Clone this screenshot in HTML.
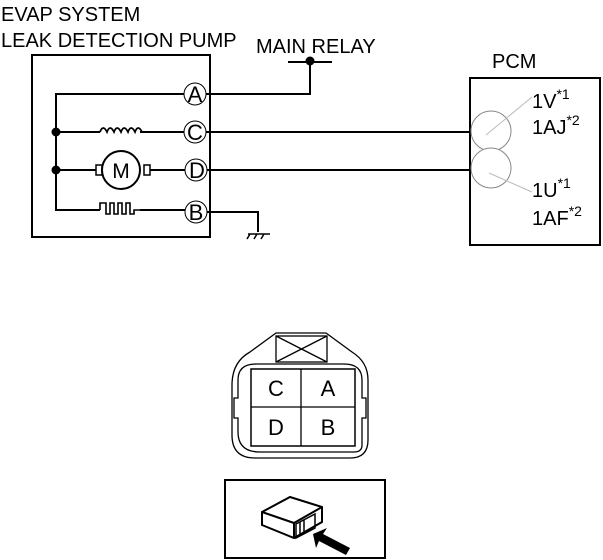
<!DOCTYPE html>
<html><head><style>body{margin:0;background:#fff}svg{display:block}text{font-family:"Liberation Sans",sans-serif;fill:#000}</style></head><body>
<svg width="603" height="560" viewBox="0 0 603 560">
<text x="1" y="21" font-size="20">EVAP SYSTEM</text>
<text x="1" y="47" font-size="20">LEAK DETECTION PUMP</text>
<text x="256" y="53" font-size="20">MAIN RELAY</text>
<text x="492" y="68" font-size="20">PCM</text>
<g fill="none" stroke="#000" stroke-width="2">
<rect x="32" y="55" width="178" height="182"/>
<rect x="470" y="78" width="130" height="167"/>
<path d="M186,94 H56 V210 H100 M56,132 H100 M56,170 H96 M150,170 H186 M140,132 H186 M140,210 H186"/>
<path d="M100,132 q3,-8 7,0 q3,-8 7,0 q3,-8 7,0 q3,-8 7,0 q3,-8 7,0 q3,-8 7,0" stroke-width="1.8"/>
<path d="M100,210 V203 H106 V214 H110 V203 H114 V214 H118 V203 H122 V214 H126 V203 H130 V214 H134 V210 H140" stroke-width="1.6"/>
<path d="M204,94 H310 V62 M288,62 H332 M204,132 H470 M206,170 H470 M204,212 H258 V232"/>
<path d="M248,234 H270 M250,234 l-3,5 M257,234 l-3,5 M264,234 l-3,5" stroke-width="1.5"/>
</g>
<rect x="96" y="165" width="6" height="10" fill="#fff" stroke="#000" stroke-width="1.5"/>
<rect x="144" y="165" width="6" height="10" fill="#fff" stroke="#000" stroke-width="1.5"/>
<circle cx="121" cy="170" r="19" fill="#fff" stroke="#000" stroke-width="2"/>
<text x="121" y="178" font-size="21" text-anchor="middle">M</text>
<circle cx="56" cy="132" r="4.5"/><circle cx="56" cy="170" r="4.5"/><circle cx="310" cy="61" r="4.5"/>
<g fill="#fff" stroke="#000" stroke-width="1"><circle cx="195" cy="94" r="11"/><circle cx="195" cy="132" r="11"/><circle cx="196" cy="170" r="11"/><circle cx="196" cy="212" r="11"/></g>
<g font-size="22" text-anchor="middle"><text x="195" y="102">A</text><text x="195" y="140">C</text><text x="197" y="178">D</text><text x="196" y="220">B</text></g>
<g fill="#fff" stroke="#888" stroke-width="1"><circle cx="491" cy="131" r="20"/><circle cx="491" cy="168" r="20"/></g>
<path d="M486,135 L532,97 M489,173 L532,192" stroke="#bbb" stroke-width="1"/>
<g font-size="20"><text x="532" y="108">1V<tspan font-size="14" dy="-9">*1</tspan></text>
<text x="532" y="134">1AJ<tspan font-size="14" dy="-9">*2</tspan></text>
<text x="532" y="197">1U<tspan font-size="14" dy="-9">*1</tspan></text>
<text x="532" y="225">1AF<tspan font-size="14" dy="-9">*2</tspan></text></g>
<g fill="none" stroke="#000" stroke-width="1.3">
<path d="M276,333 H326 L352,352 Q368,362 368,380 V440 Q368,458 350,458 H255 Q232,458 232,435 V385 Q232,362 250,352 Z"/>
<path d="M256,364 H344 Q362,364 362,380 V398 H366 V418 H362 V445 Q362,452 354,452 H260 Q238,452 238,432 V418 H234 V398 H238 V380 Q238,364 256,364 Z"/>
<rect x="276" y="336" width="51" height="26"/><path d="M276,336 L327,362 M327,336 L276,362"/>
<rect x="251" y="369" width="104" height="77" stroke-width="1.5"/><path d="M301,369 V446 M251,407 H355"/>
<rect x="225" y="480" width="160" height="78" stroke-width="2"/>
<path d="M262,512 L290,497 L322,507 V522 L294,538 L262,525 Z M262,512 L294,523 L322,507 M294,523 V538" stroke-width="2"/>
<path d="M296,524 L315,514 V528 L296,538 Z M300,522 V536 M304,520 V534" stroke-width="1.5"/>
</g>
<path d="M313,534 L327,528 L323,534 L350,548 L346,555 L319,541 L316,548 Z" fill="#000"/>
<g font-size="22" text-anchor="middle"><text x="276" y="396">C</text><text x="328" y="396">A</text><text x="276" y="435">D</text><text x="328" y="435">B</text></g>
</svg></body></html>
